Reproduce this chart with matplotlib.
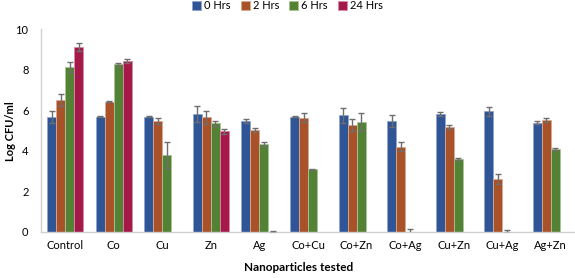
import numpy as np
import matplotlib
matplotlib.use("Agg")
import matplotlib.pyplot as plt

plt.rcParams['font.family'] = ['Lato', 'DejaVu Sans']

categories = ["Control", "Co", "Cu", "Zn", "Ag", "Co+Cu", "Co+Zn", "Co+Ag", "Cu+Zn", "Cu+Ag", "Ag+Zn"]
series_names = ["0 Hrs", "2 Hrs", "6 Hrs", "24 Hrs"]

nan = np.nan
hrs0 = [5.68, 5.68, 5.68, 5.82, 5.47, 5.68, 5.75, 5.47, 5.82, 5.95, 5.39]
hrs2 = [6.50, 6.42, 5.47, 5.65, 5.02, 5.63, 5.27, 4.20, 5.19, 2.59, 5.52]
hrs6 = [8.14, 8.27, 3.79, 5.36, 4.33, 3.08, 5.42, 0.0, 3.59, 0.0, 4.07]
hrs24 = [9.14, 8.43, nan, 4.97, 0.0, nan, nan, nan, nan, nan, nan]

err0 = [0.30, 0.02, 0.02, 0.38, 0.09, 0.02, 0.38, 0.30, 0.11, 0.21, 0.09]
err2 = [0.29, 0.02, 0.13, 0.33, 0.10, 0.22, 0.31, 0.21, 0.10, 0.25, 0.08]
err6 = [0.25, 0.08, 0.63, 0.12, 0.08, 0.02, 0.43, 0.13, 0.07, 0.07, 0.07]
err24 = [0.20, 0.10, nan, 0.12, 0.05, nan, nan, nan, nan, nan, nan]

values = [hrs0, hrs2, hrs6, hrs24]
errors = [err0, err2, err6, err24]
colors = ["#2F5597", "#A9522A", "#548235", "#A5184A"]
edges = ["#8EA5CF", "#D9A88F", "#A9C497", "#D98AA5"]

fig = plt.figure(figsize=(5.75, 2.78), dpi=100)
ax = fig.add_axes([0.0713, 0.1665, 0.9287, 0.728])

x = np.arange(len(categories))
w = 0.185
for i in range(4):
    pos = x + (i - 1.5) * w
    vals = np.array(values[i], dtype=float)
    errs = np.array(errors[i], dtype=float)
    ax.bar(pos, vals, width=w, color=colors[i], edgecolor=edges[i], linewidth=0.6,
           label=series_names[i], zorder=2)
    ax.errorbar(pos, vals, yerr=errs, fmt='none', ecolor="#6E6E6E", elinewidth=1.0,
                capsize=2.5, capthick=1.0, zorder=3)

ax.set_xlim(-0.5, len(categories) - 0.5)
ax.set_ylim(0, 10)
ax.set_yticks([0, 2, 4, 6, 8, 10])
ax.set_xticks(x)
ax.set_xticklabels(categories, fontsize=8)
ax.tick_params(axis='y', labelsize=8, length=0, pad=9)
ax.tick_params(axis='x', length=0, pad=6)
for s in ['top', 'right']:
    ax.spines[s].set_visible(False)
for s in ['left', 'bottom']:
    ax.spines[s].set_color("#D0D0D0")
    ax.spines[s].set_linewidth(1.0)

# axis titles placed in figure coords (like the Excel layout)
fig.text(0.018, 0.53, "Log CFU/ml", rotation=90, ha='center', va='center',
         fontsize=8, fontweight='bold')
fig.text(0.52, 0.036, "Nanoparticles tested", ha='center', va='center',
         fontsize=8.5, fontweight='bold')

fig.legend(loc='upper center', bbox_to_anchor=(0.5, 1.035), ncol=4, frameon=False,
           fontsize=8, handlelength=0.8, handleheight=0.8, handletextpad=0.3,
           columnspacing=0.9)

fig.savefig("out.png", dpi=100)
